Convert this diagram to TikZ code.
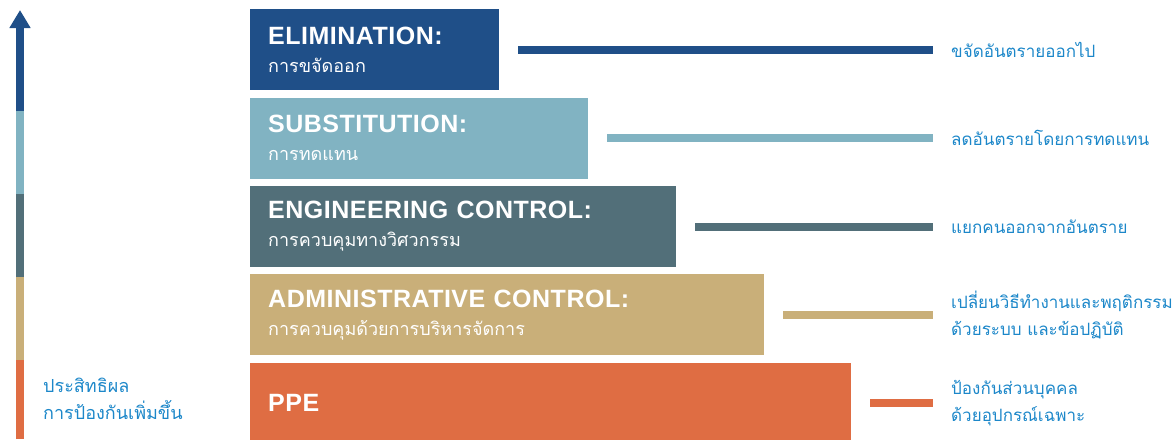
\documentclass[tikz,border=0pt]{standalone}
\usepackage{fontspec}
\setmainfont{Liberation Sans}
\newfontfamily\headfont[LetterSpace=2]{Liberation Sans}
\newfontfamily\thaifont[Script=Thai]{Loma}
\usepackage{tikz}
\usetikzlibrary{
  arrows.meta,
  positioning
}
\definecolor{hcElim}{HTML}{1F4F88}
\definecolor{hcSubst}{HTML}{81B3C2}
\definecolor{hcEngin}{HTML}{526F79}
\definecolor{hcAdmin}{HTML}{C9AF79}
\definecolor{hcPPE}{HTML}{DF6D43}
\definecolor{hcText}{HTML}{1C87C9}
\newcommand{\tiertext}[2]{#1\\[1pt]{\thaifont\mdseries\fontsize{18}{19}\selectfont #2}}
\tikzset{
  tier/.style={
    rectangle, minimum height=81pt, inner xsep=18pt, inner ysep=0pt,
    text width=#1, align=left, text=white,
    font=\headfont\fontsize{25}{27}\selectfont\bfseries
  },
  note/.style={
    anchor=west, inner sep=0pt, align=left, text=hcText,
    font=\thaifont\fontsize{17}{27}\selectfont
  },
  rung/.style={line width=8pt, draw=#1},
  bar/.style={line width=8pt}
}

\begin{document}
\begin{tikzpicture}[x=1pt, y=-1pt]
  \useasboundingbox (0,0) rectangle (1175,439);
  % hierarchy boxes
  \node[tier=213pt, fill=hcElim, anchor=north west] (elim) at (250,9)
    {\tiertext{ELIMINATION:}{การขจัดออก}};
  \node[tier=302pt, fill=hcSubst, below=7pt of elim.south west, anchor=north west] (subst)
    {\tiertext{SUBSTITUTION:}{การทดแทน}};
  \node[tier=390pt, fill=hcEngin, below=7pt of subst.south west, anchor=north west] (engin)
    {\tiertext{ENGINEERING CONTROL:}{การควบคุมทางวิศวกรรม}};
  \node[tier=478pt, fill=hcAdmin, below=7pt of engin.south west, anchor=north west] (admin)
    {\tiertext{ADMINISTRATIVE CONTROL:}{การควบคุมด้วยการบริหารจัดการ}};
  \node[tier=565pt, fill=hcPPE, below=7pt of admin.south west, anchor=north west] (ppe)
    {PPE};
  % notes on the right
  \coordinate (notecol) at (951,0);
  \node[note] (elimtxt) at (elim.east -| notecol) {ขจัดอันตรายออกไป};
  \node[note] (substtxt) at (subst.east -| notecol) {ลดอันตรายโดยการทดแทน};
  \node[note] (engintxt) at (engin.east -| notecol) {แยกคนออกจากอันตราย};
  \node[note] (admintxt) at (admin.east -| notecol) {เปลี่ยนวิธีทำงานและพฤติกรรม\\ด้วยระบบ และข้อปฏิบัติ};
  \node[note] (ppetxt) at (ppe.east -| notecol) {ป้องกันส่วนบุคคล\\ด้วยอุปกรณ์เฉพาะ};
  \foreach \t/\c in {elim/hcElim, subst/hcSubst, engin/hcEngin, admin/hcAdmin, ppe/hcPPE}
    \draw[rung=\c] ([xshift=19pt]\t.east) -- ([xshift=-18pt]\t txt.west);
  % effectiveness arrow
  \foreach \c/\ya/\yb in {hcPPE/439/360, hcAdmin/360/277, hcEngin/277/194, hcSubst/194/111}
    \draw[bar, \c] (20,\ya) -- (20,\yb);
  \draw[bar, hcElim, -{Triangle[width=20pt, length=18pt]}] (20,111) -- (20,10);
  \node[note, font=\thaifont\fontsize{18}{27}\selectfont] (gain) at (43,399) {ประสิทธิผล\\การป้องกันเพิ่มขึ้น};
\end{tikzpicture}
\end{document}
